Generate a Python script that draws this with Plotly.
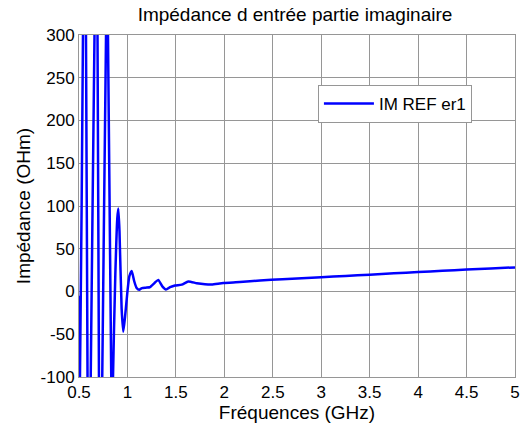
import plotly.graph_objects as go

freq_ghz = [0.500, 0.503, 0.510, 0.541, 0.556, 0.572, 0.588, 0.605, 0.621, 0.660,
            0.675, 0.691, 0.706, 0.723, 0.740, 0.779, 0.790, 0.799, 0.833, 0.842,
            0.851, 0.875, 0.895, 0.906, 0.918, 0.940, 0.957, 0.975, 1.000, 1.020,
            1.044, 1.07, 1.095, 1.122, 1.15, 1.19, 1.23, 1.28, 1.318, 1.36,
            1.398, 1.44, 1.49, 1.56, 1.628, 1.715, 1.80, 1.87, 1.99, 2.16,
            2.368, 2.6, 2.8, 3.0, 3.25, 3.5, 3.75, 4.0, 4.25, 4.5, 4.75, 5.0]
im_ohm = [-5, -60, -100, 300, 600, 300, -100, -500, -100, 300,
          550, 300, -100, -450, -100, 300, 450, 300, -100, -250,
          -100, 20, 85, 97, 70, -20, -47, -30, 0, 18,
          24, 12, 4, 2, 4, 4.5, 5, 10, 13.6, 6,
          2.3, 5, 7, 8, 11.7, 9.7, 8.5, 8.2, 10, 11,
          12.9, 14.3, 15.5, 16.7, 18.2, 19.7, 21.2, 22.7, 24.2, 25.7, 27, 28.2]

x_ticks = [0.5, 1, 1.5, 2, 2.5, 3, 3.5, 4, 4.5, 5]
x_labels = ["0.5", "1", "1.5", "2", "2.5", "3", "3.5", "4", "4.5", "5"]
y_ticks = [-100, -50, 0, 50, 100, 150, 200, 250, 300]
y_labels = ["-100", "-50", "0", "50", "100", "150", "200", "250", "300"]

fig = go.Figure()
fig.add_trace(go.Scatter(
    x=freq_ghz, y=im_ohm, mode="lines", name="IM REF er1",
    line=dict(color="rgb(0,0,255)", width=2.5, shape="spline", smoothing=0.5),
))

font_family = "Liberation Sans, Arial, sans-serif"
grid_color = "rgb(150,150,150)"

fig.update_layout(
    width=520, height=427,
    margin=dict(l=79, r=5, t=35, b=50),
    paper_bgcolor="white", plot_bgcolor="white",
    font=dict(family=font_family, size=17, color="black"),
    title=dict(text="Impédance d entrée partie imaginaire", x=295 / 520, xanchor="center",
               xref="container", y=1 - 8 / 427, yanchor="top", font=dict(size=19, color="black")),
    showlegend=True,
    legend=dict(x=0.548, y=0.854, xanchor="left", yanchor="top",
                bgcolor="white", bordercolor="rgb(150,150,150)", borderwidth=1,
                itemwidth=50, font=dict(size=17, color="black")),
    xaxis=dict(range=[0.5, 5], tickvals=x_ticks, ticktext=x_labels,
               showgrid=True, gridcolor=grid_color, gridwidth=1,
               showline=True, linecolor=grid_color, linewidth=1, mirror=True,
               zeroline=False, ticks="", tickfont=dict(size=17), automargin=False,
               ticklabeloverflow="allow",
               title=dict(text="Fréquences (GHz)", font=dict(size=19), standoff=0)),
    yaxis=dict(range=[-100, 300], tickvals=y_ticks, ticktext=y_labels,
               showgrid=True, gridcolor=grid_color, gridwidth=1,
               showline=True, linecolor=grid_color, linewidth=1, mirror=True,
               zeroline=False, ticks="", tickfont=dict(size=17), automargin=False,
               ticklabeloverflow="allow",
               title=dict(text="Impédance (OHm)", font=dict(size=19), standoff=4)),
)

# remove the browser's default 8px body margin so the 520x427 figure fills the window
fig.write_html("out.html", config={"displayModeBar": False},
               post_script="document.body.style.margin='0';")
